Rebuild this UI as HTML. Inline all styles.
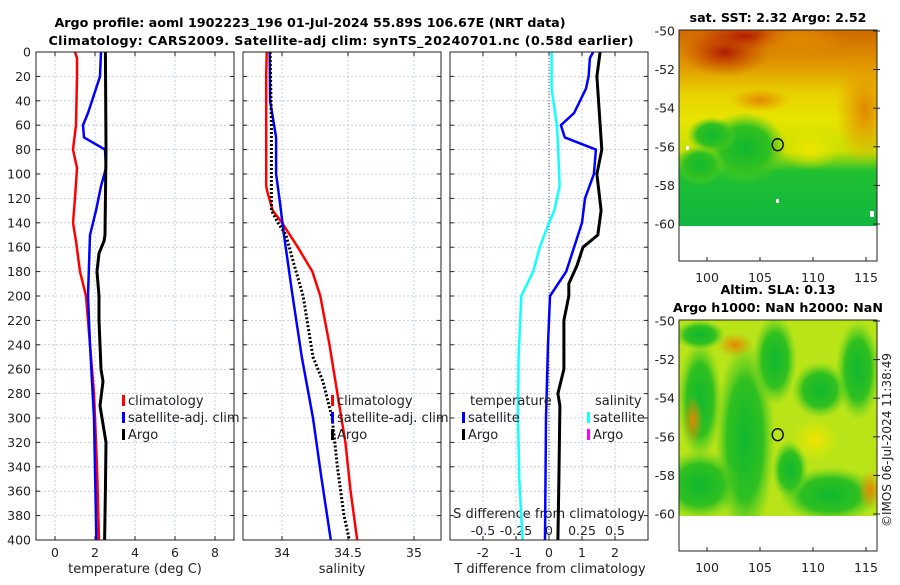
<!DOCTYPE html>
<html><head><meta charset="utf-8"><style>
body{margin:0;background:#fff;}
svg text{font-family:"DejaVu Sans","Liberation Sans",sans-serif;fill:#222;}
.t{font-weight:bold;font-size:12.7px;fill:#000;}
</style></head><body>
<svg id="c" width="900" height="580" viewBox="0 0 900 580" xmlns="http://www.w3.org/2000/svg">
<defs>
<radialGradient id="gRed"><stop offset="0" stop-color="#b01a00"/><stop offset="1" stop-color="#c84000" stop-opacity="0"/></radialGradient>
<radialGradient id="gOr"><stop offset="0" stop-color="#e08800"/><stop offset="1" stop-color="#e89000" stop-opacity="0"/></radialGradient>
<radialGradient id="gGr"><stop offset="0" stop-color="#10b830"/><stop offset="0.6" stop-color="#30c020"/><stop offset="1" stop-color="#60d020" stop-opacity="0"/></radialGradient>
<radialGradient id="gYe"><stop offset="0" stop-color="#f0e400"/><stop offset="1" stop-color="#e8e800" stop-opacity="0"/></radialGradient>
<linearGradient id="m1bg" x1="0" y1="0" x2="0" y2="1"><stop offset="0" stop-color="#d06800"/><stop offset="0.18" stop-color="#e09800"/><stop offset="0.32" stop-color="#e8d000"/><stop offset="0.45" stop-color="#e8e400"/><stop offset="0.62" stop-color="#c8e000"/><stop offset="0.72" stop-color="#20c030"/><stop offset="1" stop-color="#10b840"/></linearGradient>
<clipPath id="cm1"><rect x="679" y="30" width="198" height="196"/></clipPath>
<clipPath id="cm2"><rect x="679" y="320" width="198" height="196"/></clipPath>
</defs>
<text class="t" x="310" y="27" text-anchor="middle">Argo profile: aoml 1902223_196 01-Jul-2024 55.89S 106.67E (NRT data)</text>
<text class="t" x="341" y="45" text-anchor="middle" textLength="585" lengthAdjust="spacing">Climatology: CARS2009. Satellite-adj clim: synTS_20240701.nc (0.58d earlier)</text>
<text class="t" x="778" y="22" text-anchor="middle">sat. SST: 2.32 Argo: 2.52</text>
<text class="t" x="778" y="294" text-anchor="middle">Altim. SLA: 0.13</text>
<text class="t" x="778" y="312" text-anchor="middle">Argo h1000: NaN h2000: NaN</text>
<text x="891" y="440" font-size="12" text-anchor="middle" transform="rotate(-90 891 440)">©IMOS 06-Jul-2024 11:38:49</text>

<g clip-path="url(#cm1)">
<rect x="679" y="30" width="198" height="196" fill="url(#m1bg)"/>
<ellipse cx="725" cy="52" rx="45" ry="25" fill="url(#gRed)"/>
<ellipse cx="745" cy="36" rx="45" ry="14" fill="url(#gRed)"/>
<ellipse cx="800" cy="40" rx="45" ry="18" fill="url(#gOr)"/>
<ellipse cx="865" cy="110" rx="30" ry="55" fill="url(#gOr)"/>
<ellipse cx="760" cy="100" rx="30" ry="12" fill="url(#gOr)"/>
<ellipse cx="745" cy="148" rx="42" ry="36" fill="url(#gGr)"/>
<ellipse cx="712" cy="135" rx="25" ry="18" fill="url(#gGr)"/>
<ellipse cx="700" cy="165" rx="25" ry="20" fill="url(#gGr)"/>
<ellipse cx="810" cy="150" rx="30" ry="20" fill="url(#gYe)"/>
<rect x="686" y="146" width="3" height="4" fill="#fff"/>
<rect x="776" y="199" width="3" height="4" fill="#fff"/>
<rect x="870" y="211" width="4" height="6" fill="#fff"/>
</g>
<g clip-path="url(#cm2)">
<rect x="679" y="320" width="198" height="196" fill="#b8e418"/>
<ellipse cx="700" cy="400" rx="22" ry="60" fill="url(#gGr)"/>
<ellipse cx="745" cy="440" rx="30" ry="100" fill="url(#gGr)"/>
<ellipse cx="775" cy="360" rx="22" ry="45" fill="url(#gGr)"/>
<ellipse cx="820" cy="390" rx="28" ry="28" fill="url(#gGr)"/>
<ellipse cx="858" cy="370" rx="22" ry="50" fill="url(#gGr)"/>
<ellipse cx="700" cy="485" rx="40" ry="35" fill="url(#gGr)"/>
<ellipse cx="830" cy="495" rx="50" ry="28" fill="url(#gGr)"/>
<ellipse cx="790" cy="470" rx="18" ry="30" fill="url(#gGr)"/>
<ellipse cx="700" cy="335" rx="25" ry="15" fill="url(#gGr)"/>
<ellipse cx="735" cy="345" rx="18" ry="12" fill="url(#gOr)"/>
<ellipse cx="693" cy="420" rx="10" ry="25" fill="url(#gOr)"/>
<ellipse cx="870" cy="490" rx="12" ry="20" fill="url(#gOr)"/>
<ellipse cx="815" cy="440" rx="25" ry="22" fill="url(#gYe)"/>
</g>
<g id="axes"></g>
</svg>
<script>
const depthTclim = [0,5,20,60,80,95,120,140,155,180,200,220,250,280,300,340,400];
const tempClim   = [1.0,1.1,1.1,1.05,0.9,1.1,1.0,0.9,1.05,1.25,1.55,1.65,1.8,1.95,2.0,2.1,2.2];
const depthTsat  = [0,20,30,50,60,70,80,95,110,130,150,200,240,300,400];
const tempSat    = [2.3,2.25,2.05,1.65,1.4,1.45,2.5,2.55,2.3,2.05,1.75,1.65,1.75,1.95,2.07];
const depthTargo = [0,80,150,155,165,180,200,220,260,270,290,320,360,400];
const tempArgo   = [2.52,2.55,2.5,2.45,2.2,2.1,2.2,2.2,2.3,2.4,2.25,2.55,2.52,2.48];
const depthSclim = [0,20,110,115,130,140,160,180,200,240,280,320,360,400];
const salClim    = [33.884,33.88,33.88,33.89,33.93,34.0,34.12,34.23,34.29,34.36,34.42,34.48,34.52,34.57];
const depthSsat  = [0,40,70,100,120,150,200,250,300,350,400];
const salSat     = [33.907,33.91,33.955,33.955,33.98,34.015,34.08,34.15,34.235,34.3,34.37];
const depthSargo = [0,60,130,140,150,170,200,250,270,300,340,380,400];
const salArgo    = [33.91,33.92,33.92,33.97,34.03,34.08,34.16,34.235,34.31,34.38,34.42,34.47,34.51];
const depthDS    = [0,30,60,80,110,130,140,160,180,200,250,300,350,400];
const salDiffSat = [0.02,0.02,0.06,0.07,0.08,0.04,0,-0.07,-0.12,-0.21,-0.23,-0.235,-0.225,-0.2];
const depthDT    = [0,5,20,30,50,60,70,80,100,120,140,160,180,200,240,300,400];
const tDiffSat   = [1.34,1.24,1.2,1.12,0.76,0.36,0.48,1.42,1.36,1.09,1.0,0.76,0.52,0.03,-0.03,-0.09,-0.12];
const depthDA    = [0,20,80,100,130,150,160,175,190,200,220,260,280,290,350,400];
const tDiffArgo  = [1.55,1.45,1.6,1.45,1.58,1.48,1.03,0.85,0.6,0.6,0.45,0.45,0.27,0.33,0.3,0.27];
const depthTicks = [0,20,40,60,80,100,120,140,160,180,200,220,240,260,280,300,320,340,360,380,400];
const tTicks = [0,2,4,6,8];
const sTicks = [34,34.5,35];
const dTTicks = [-2,-1,0,1,2];
const dSTicks = [-0.5,-0.25,0,0.25,0.5];
const dSTickLabels = ['-0.5','-0.25','0','0.25','0.5'];
const latTicks = [-50,-52,-54,-56,-58,-60];
const lonTicks = [100,105,110,115];
const argoLon = 106.67, argoLat = -55.89;

const NS='http://www.w3.org/2000/svg';
const g=document.getElementById('axes');
function el(tag,at,parent){const e=document.createElementNS(NS,tag);for(const k in at)e.setAttribute(k,at[k]);(parent||g).appendChild(e);return e;}
const yD=d=>52+1.22*d;
const xT=t=>55+20*t;
const xS=s=>282+132*(s-34);
const xDT=t=>549+33*t;
const xDS=s=>549+132*s;
const panels=[[36,234],[243,441],[450,648]];

panels.forEach((p,i)=>{
  const gxs = i===0? tTicks.map(xT) : i===1? sTicks.map(xS) : dTTicks.map(xDT);
  gxs.forEach(x=>{const l=el('line',{x1:x,x2:x,y1:52,y2:540,stroke:'#b8c4ec','stroke-width':0.8,'stroke-dasharray':'2,2'});
    
    });
  depthTicks.forEach(d=>{const l=el('line',{x1:p[0],x2:p[1],y1:yD(d),y2:yD(d),stroke:'#b8c4ec','stroke-width':0.8,'stroke-dasharray':'2,2'});
    
    
    [[p[0],p[0]+4],[p[1]-4,p[1]]].forEach(a=>{const tk=el('line',{x1:a[0],x2:a[1],y1:yD(d),y2:yD(d),stroke:'#222'});
      
      });
  });
  gxs.forEach(x=>{[[540,536],[52,56]].forEach(a=>{const tk=el('line',{x1:x,x2:x,y1:a[0],y2:a[1],stroke:'#222'});
    
    });});
});
depthTicks.forEach(d=>{const t=el('text',{x:31,y:yD(d)+4.5,'font-size':12.5,'text-anchor':'end'});t.textContent=d;
  
  });
function xl(x,y,txt){const t=el('text',{x:x,y:y,'font-size':12.5,'text-anchor':'middle'});t.textContent=txt;
  
  }
tTicks.forEach(v=>xl(xT(v),557,v));
sTicks.forEach(v=>xl(xS(v),557,v));
dTTicks.forEach(v=>xl(xDT(v),557,v));
dSTicks.forEach((v,i)=>xl(xDS(v),535,dSTickLabels[i]));
function title(x,y,txt,n){const t=el('text',{x:x,y:y,'font-size':13,'text-anchor':'middle'});t.textContent=txt;
  
  }
title(135,573,'temperature (deg C)','temp-axis-title');
title(342,573,'salinity','salinity-axis-title');
title(550,573,'T difference from climatology','tdiff-axis-title');
title(549,518,'S difference from climatology','sdiff-axis-title');

const z=el('line',{x1:xDT(0),x2:xDT(0),y1:52,y2:540,stroke:'#445','stroke-width':1,'stroke-dasharray':'1,2'});



function line(xs,ds,fx,color,w,name,dash){
  const pts=xs.map((v,i)=>fx(v).toFixed(1)+','+yD(ds[i]).toFixed(1)).join(' ');
  const a={points:pts,fill:'none',stroke:color,'stroke-width':w,'stroke-linejoin':'round'};
  if(dash)a['stroke-dasharray']=dash;
  const p=el('polyline',a);
  
  
}
line(tempClim,depthTclim,xT,'#f00',2.5,'temp-climatology-line');
line(tempSat,depthTsat,xT,'#00f',2.5,'temp-satellite-line');
line(tempArgo,depthTargo,xT,'#000',3,'temp-argo-line');
line(salClim,depthSclim,xS,'#f00',2.5,'sal-climatology-line');
line(salSat,depthSsat,xS,'#00f',2.5,'sal-satellite-line');
line(salArgo,depthSargo,xS,'#000',3,'sal-argo-line','2,2');
line(salDiffSat,depthDS,xDS,'#1ff',2.5,'sdiff-satellite-line');
line(tDiffSat,depthDT,xDT,'#00f',2.5,'tdiff-satellite-line');
line(tDiffArgo,depthDA,xDT,'#000',3,'tdiff-argo-line');

panels.forEach(p=>{const r=el('rect',{x:p[0],y:52,width:p[1]-p[0],height:488,fill:'none',stroke:'#222','stroke-width':1});
  
  });

function leg(x,y,color,txt,n){
  if(color){const m=el('rect',{x:x,y:y-10,width:3,height:11,fill:color});
    
    }
  const t=el('text',{x:x+6,y:y,'font-size':13});t.textContent=txt;
  
  
}
leg(122,405,'#f00','climatology','legend-climatology');
leg(122,422,'#00f','satellite-adj. clim','legend-satellite');
leg(122,439,'#000','Argo','legend-argo');
leg(331,405,'#f00','climatology','legend-sal-climatology');
leg(331,422,'#00f','satellite-adj. clim','legend-sal-satellite');
leg(331,439,'#000','Argo','legend-sal-argo');
leg(464,405,null,'temperature','legend-temperature-header');
leg(462,422,'#00f','satellite','legend-t-satellite');
leg(462,439,'#000','Argo','legend-t-argo');
leg(589,405,null,'salinity','legend-salinity-header');
leg(587,422,'#1ff','satellite','legend-s-satellite');
leg(587,439,'#f0f','Argo','legend-s-argo');

const xLon=l=>707+10.6*(l-100);
[[30,261],[320,551]].forEach((m,mi)=>{
  const top=m[0];
  const yLat=l=>top+1+19.3*(-50-l);
  const r=el('rect',{x:679,y:top,width:198,height:m[1]-top,fill:'none',stroke:'#222'});
  
  
  latTicks.forEach(v=>{const t=el('text',{x:675,y:yLat(v)+4.5,'font-size':12.5,'text-anchor':'end'});t.textContent=v;
    
    
    const k=el('line',{x1:873,x2:880,y1:yLat(v),y2:yLat(v),stroke:'#222'});
    
    });
  lonTicks.forEach(v=>{const t=el('text',{x:xLon(v),y:m[1]+21,'font-size':12.5,'text-anchor':'middle'});t.textContent=v;
    
    
    const k=el('line',{x1:xLon(v),x2:xLon(v),y1:m[1],y2:m[1]-4,stroke:'#222'});
    
    });
  const c=el('ellipse',{cx:xLon(argoLon),cy:yLat(argoLat),rx:5.5,ry:6,fill:'none',stroke:'#000','stroke-width':1.3});
  
  
});
</script>
</body></html>
